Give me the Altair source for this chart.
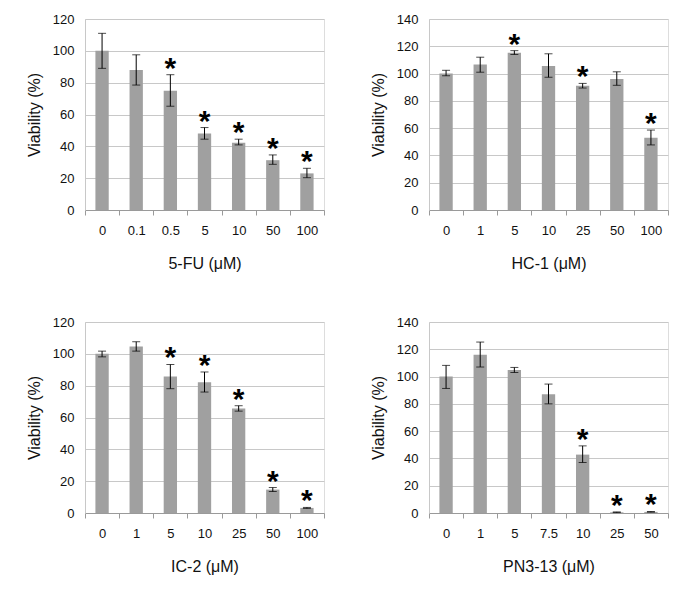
import altair as alt
import pandas as pd

# ---- data ----
fu_doses = ["0", "0.1", "0.5", "5", "10", "50", "100"]
fu_mean = [100, 87.9, 74.9, 48.0, 42.2, 31.3, 23.0]
fu_lo = [89.0, 78.5, 65.2, 44.5, 40.9, 28.7, 20.3]
fu_hi = [111.0, 97.5, 85.0, 51.8, 44.5, 34.6, 26.2]
fu_sig = [0, 0, 1, 1, 1, 1, 1]

hc_doses = ["0", "1", "5", "10", "25", "50", "100"]
hc_mean = [100, 106.6, 115.2, 105.6, 91.0, 96.0, 53.0]
hc_lo = [98.4, 101.0, 114.0, 97.3, 89.4, 91.4, 47.7]
hc_hi = [102.4, 112.0, 116.8, 114.5, 92.8, 101.3, 58.6]
hc_sig = [0, 0, 1, 0, 1, 0, 1]

ic_doses = ["0", "1", "5", "10", "25", "50", "100"]
ic_mean = [100, 104.6, 85.7, 82.1, 65.6, 14.7, 3.2]
ic_lo = [98.1, 101.7, 78.1, 76.0, 64.0, 13.5, 2.9]
ic_hi = [101.7, 107.6, 93.3, 88.6, 67.4, 16.0, 3.5]
ic_sig = [0, 0, 1, 1, 1, 1, 1]

pn_doses = ["0", "1", "5", "7.5", "10", "25", "50"]
pn_mean = [100, 116.0, 104.8, 87.1, 42.8, 0.5, 0.8]
pn_lo = [91.3, 107.0, 103.0, 80.0, 37.0, 0.3, 0.6]
pn_hi = [108.2, 125.3, 106.7, 94.5, 49.2, 0.8, 1.1]
pn_sig = [0, 0, 0, 0, 1, 1, 1]

FONT = "Liberation Sans"
BAR = "#a0a0a0"
GRID = "#c8c8c8"
DOMAIN = "#9a9a9a"
W, H = 239, 191


def panel(title, doses, mean, lo, hi, sig, ymax):
    df = pd.DataFrame({
        "dose": doses, "mean": mean, "lo": lo, "hi": hi,
        "star": ["*" if s else "" for s in sig],
    })
    x = alt.X(
        "dose:N", sort=doses,
        scale=alt.Scale(paddingInner=0, paddingOuter=0),
        axis=alt.Axis(
            title=title, labelAngle=0, tickBand="extent", tickSize=5,
            tickColor=DOMAIN, domainColor=DOMAIN, labelPadding=9,
            titlePadding=18, labelFontSize=13, titleFontSize=16,
            titleFontWeight="normal", labelColor="#111", titleColor="#111",
            labelFont=FONT, titleFont=FONT, grid=False,
        ),
    )
    yscale = alt.Scale(domain=[0, ymax], nice=False)
    yaxis = alt.Axis(
        title="Viability (%)", values=list(range(0, ymax + 1, 20)),
        labelOverlap=False,
        ticks=False, grid=True, gridColor=GRID, domainColor=GRID,
        labelPadding=11, titlePadding=10, labelFontSize=13, titleFontSize=16,
        titleFontWeight="normal", labelColor="#111", titleColor="#111",
        labelFont=FONT, titleFont=FONT,
    )

    def Y(field):
        return alt.Y(field, type="quantitative", scale=yscale, axis=yaxis)

    base = alt.Chart(df).encode(x=x)
    bars = base.mark_bar(color=BAR, width=alt.RelativeBandSize(0.39)).encode(
        y=Y("mean")
    )
    err = base.mark_rule(color="black", strokeWidth=1).encode(
        y=Y("lo"), y2="hi:Q"
    )
    cap_lo = base.mark_tick(color="black", size=8, thickness=1).encode(y=Y("lo"))
    cap_hi = base.mark_tick(color="black", size=8, thickness=1).encode(y=Y("hi"))
    stars = base.mark_text(
        font=FONT, fontSize=30, fontWeight="bold", baseline="alphabetic",
        dy=3, color="black",
    ).encode(y=Y("hi"), text="star:N")
    return alt.layer(bars, err, cap_lo, cap_hi, stars).properties(width=W, height=H)


p1 = panel("5-FU (μM)", fu_doses, fu_mean, fu_lo, fu_hi, fu_sig, 120)
p2 = panel("HC-1 (μM)", hc_doses, hc_mean, hc_lo, hc_hi, hc_sig, 140)
p3 = panel("IC-2 (μM)", ic_doses, ic_mean, ic_lo, ic_hi, ic_sig, 120)
p4 = panel("PN3-13 (μM)", pn_doses, pn_mean, pn_lo, pn_hi, pn_sig, 140)

chart = alt.vconcat(
    alt.hconcat(p1, p2, spacing=44),
    alt.hconcat(p3, p4, spacing=44),
    spacing=43,
).properties(
    padding={"left": 17, "top": 3, "right": 5, "bottom": 5}
).configure_view(stroke=None).configure(background="white")

chart.save("out.html", embed_options={"renderer": "svg", "actions": False})
